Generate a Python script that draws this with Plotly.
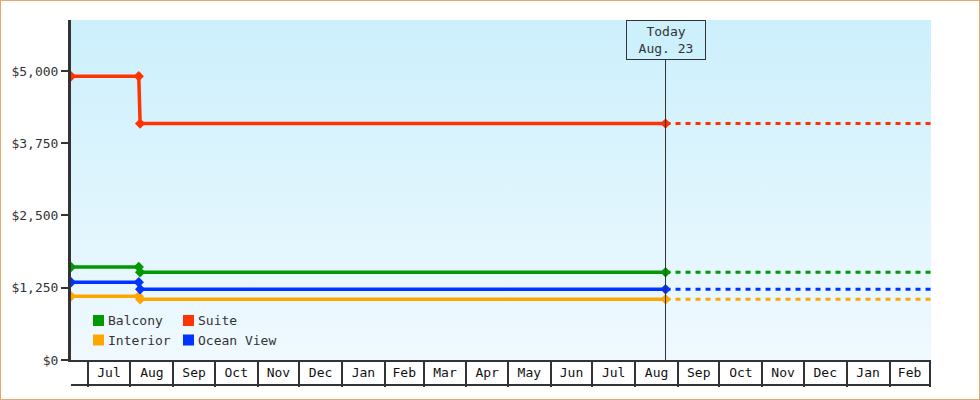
## IMPORTING

import plotly.graph_objects as go


## Data

names = ["Balcony", "Suite", "Interior", "Ocean View"]
colors = ["#009900", "#ff3300", "#ffa500", "#0033ff"]

# price history dates (last one is "today")
dates = ["2022-06-19", "2022-08-07", "2022-08-08", "2023-08-23"]
balcony = [1609, 1609, 1517, 1517]
suite = [4908, 4908, 4090, 4090]
interior = [1102, 1102, 1050, 1050]
ocean_view = [1344, 1344, 1223, 1223]

today = "2023-08-23"
today_label = "Today<br>Aug. 23"
range_end = "2024-03-02"

y_ticks = [0, 1250, 2500, 3750, 5000]
y_labels = [f"${v:,}" for v in y_ticks]
y_top = 5882

series = [balcony, suite, interior, ocean_view]


## Layout numbers (px)

W, H = 980, 400
ML, MR, MT, MB = 71, 49, 20, 40
PW = W - ML - MR
PH = H - MT - MB

font_family = "DejaVu Sans Mono"
bg_top = "#ccf0fc"
bg_bottom = "#f0f9ff"
axis_color = "#333333"


fig = go.Figure()

# gradient background of the plot area
fig.add_trace(go.Scatter(
    x=[dates[0], range_end, range_end, dates[0]],
    y=[0, 0, y_top, y_top],
    mode="none",
    fill="toself",
    fillgradient=dict(type="vertical", colorscale=[[0, bg_bottom], [1, bg_top]]),
    hoverinfo="skip",
    showlegend=False,
))

# solid history + dotted projection for every cabin type
for name, color, values in zip(names, colors, series):
    fig.add_trace(go.Scatter(
        x=[today, range_end],
        y=[values[-1], values[-1]],
        mode="lines",
        line=dict(color=color, width=3, dash="5px,5px"),
        hoverinfo="skip",
        showlegend=False,
    ))
    fig.add_trace(go.Scatter(
        x=dates,
        y=values,
        name=name,
        mode="lines+markers",
        line=dict(color=color, width=3.5),
        marker=dict(symbol="diamond", size=8, color=color),
        showlegend=False,
    ))


fig.update_layout(
    width=W,
    height=H,
    margin=dict(l=ML, r=MR, t=MT, b=MB),
    paper_bgcolor="white",
    plot_bgcolor="white",
    showlegend=False,
    font=dict(family=font_family, size=13, color=axis_color),
)

# month boxes: long ticks at month starts, labels pulled back up between them
fig.update_xaxes(
    type="date",
    range=[dates[0], range_end],
    showgrid=False,
    zeroline=False,
    showline=True,
    linecolor=axis_color,
    linewidth=2,
    ticks="outside",
    ticklen=25,
    tickwidth=1.5,
    tickcolor=axis_color,
    dtick="M1",
    tick0="2022-07-01",
    tickformat="%b",
    ticklabelmode="period",
    ticklabelstandoff=-26,
    tickfont=dict(color="#111111"),
)

fig.update_yaxes(
    range=[0, y_top],
    tickvals=y_ticks,
    ticktext=y_labels,
    ticks="outside",
    ticklen=7,
    tickwidth=2,
    tickcolor=axis_color,
    showline=True,
    linewidth=3,
    linecolor=axis_color,
    showgrid=False,
    zeroline=False,
)

# bottom edge of the month boxes
fig.add_shape(type="line", xref="paper", yref="paper",
              x0=0, x1=1, y0=-25 / PH, y1=-25 / PH,
              line=dict(color=axis_color, width=2))

# today marker line + label box
fig.add_shape(type="line", xref="x", yref="paper",
              x0=today, x1=today, y0=0, y1=1 - 40 / PH,
              line=dict(color=axis_color, width=1))
fig.add_annotation(
    x=today, xref="x", y=1, yref="paper",
    xanchor="center", yanchor="top",
    text=today_label, showarrow=False,
    width=72, borderpad=3, borderwidth=1,
    bordercolor=axis_color, bgcolor=bg_top,
    font=dict(color=axis_color),
)

# legend: two columns of colored squares + names
legend_cols = [22, 112]
legend_rows = [39.5, 20]
for i, (name, color) in enumerate(zip(names, colors)):
    cx = legend_cols[i % 2]
    cy = legend_rows[i // 2]
    fig.add_shape(type="rect", xref="paper", yref="paper",
                  xsizemode="pixel", ysizemode="pixel",
                  xanchor=0, yanchor=0,
                  x0=cx, x1=cx + 11, y0=cy - 5.5, y1=cy + 5.5,
                  fillcolor=color, line=dict(width=0))
    fig.add_annotation(
        x=0, xref="paper", y=0, yref="paper",
        xshift=cx + 13, yshift=cy,
        xanchor="left", yanchor="middle",
        text=name, showarrow=False,
        font=dict(color=axis_color),
    )

# thin orange frame round the whole picture
fig.add_shape(type="rect", xref="paper", yref="paper",
              x0=-ML / PW, x1=1 + MR / PW, y0=-MB / PH, y1=1 + MT / PH,
              line=dict(color="#e5a867", width=2))

# page has a default body margin, drop it so the chart sits at 0,0
fig.write_html("out.html",
               config={"displayModeBar": False},
               post_script="document.body.style.margin = '0';")
